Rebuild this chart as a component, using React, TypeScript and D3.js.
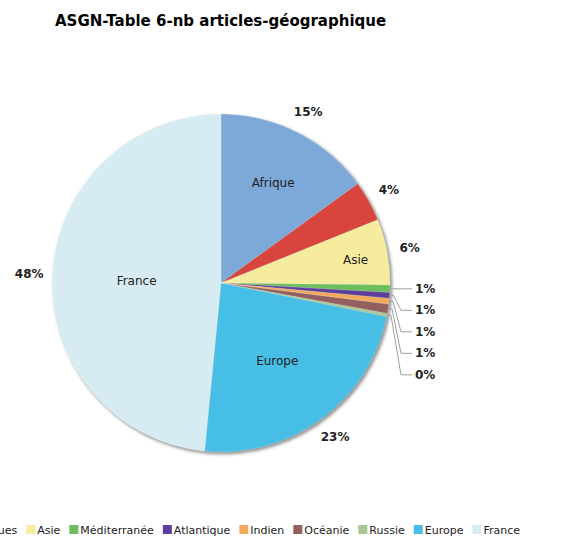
import React from "react";
import * as d3 from "d3";

const TITLE = "ASGN-Table 6-nb articles-géographique";
const categories = ["Afrique", "Amériques", "Asie", "Méditerranée", "Atlantique", "Indien", "Océanie", "Russie", "Europe", "France"];
const values = [15.0, 3.9, 6.3, 0.7, 0.55, 0.55, 0.9, 0.3, 23.35, 48.45];
const colors = ["#7DA9D8", "#D8453E", "#F5EC9E", "#6CBE5C", "#5C3F9A", "#F2A95B", "#94605F", "#A9C795", "#46BEE6", "#D7ECF2"];

const W = 565;
const H = 537;
const CX = 221;
const CY = 283;
const R = 169;
const FONT = "'DejaVu Sans', Verdana, sans-serif";

function measure(text: string, font: string): number {
  const c = document.createElement("canvas").getContext("2d");
  if (!c) return text.length * 6.5;
  c.font = font;
  return c.measureText(text).width;
}

export default function App() {
  const total = d3.sum(values);
  const pie = d3.pie<number>().sort(null).value((d) => d);
  const arcs = pie(values);
  const arc = d3.arc<d3.PieArcDatum<number>>().innerRadius(0).outerRadius(R);
  const pct = (v: number) => Math.round((v / total) * 100) + "%";

  const inFrac = (v: number) => {
    const p = v / total;
    if (p > 0.4) return 0.5;
    if (p > 0.2) return 0.56;
    if (p > 0.1) return 0.68;
    return 0.81;
  };
  const pt = (a: number, r: number): [number, number] => [CX + r * Math.sin(a), CY - r * Math.cos(a)];

  // small slices with leader lines
  const small = arcs.map((a, i) => ({ a, i })).filter(({ a }) => a.data / total < 0.03);
  const smallLabelX = CX + R + 25;
  const firstSmallY = pt((small[0].a.startAngle + small[0].a.endAngle) / 2, R)[1];

  // legend layout
  const legFS = 11;
  const legFont = `${legFS}px ${FONT}`;
  const sw = 9, gapSw = 2, gapItem = 9;
  const widths = categories.map((c) => sw + gapSw + measure(c, legFont) + gapItem);
  const legTotal = d3.sum(widths) - gapItem;
  const legRight = W - 45;
  let lx = legRight - legTotal;
  const legendItems = categories.map((c, i) => {
    const x = lx;
    lx += widths[i];
    return { c, x, color: colors[i] };
  });
  const legY = 530;

  return (
    <svg width={W} height={H} style={{ position: "absolute", left: 0, top: 0, background: "#fff" }} fontFamily={FONT}>
      <defs>
        <filter id="sh" x="-10%" y="-10%" width="120%" height="120%">
          <feGaussianBlur stdDeviation="1.5" />
        </filter>
      </defs>
      <text x={55} y={26} fontSize={15} fontWeight="bold" fill="#000">{TITLE}</text>
      <circle cx={CX + 2} cy={CY + 2} r={R + 0.5} fill="#9a9a9a" filter="url(#sh)" />
      <g transform={`translate(${CX},${CY})`}>
        {arcs.map((a, i) => (
          <path key={i} d={arc(a) || ""} fill={colors[i]} stroke="#ffffff" strokeOpacity={0.35} strokeWidth={0.5} />
        ))}
      </g>
      {arcs.map((a, i) => {
        if (a.data / total < 0.05) return null;
        const m = (a.startAngle + a.endAngle) / 2;
        const [x, y] = pt(m, R * inFrac(a.data));
        return (
          <text key={"n" + i} x={x} y={y + 2} fontSize={12} textAnchor="middle" dominantBaseline="central" fill="#222">
            {categories[i]}
          </text>
        );
      })}
      {arcs.map((a, i) => {
        if (a.data / total < 0.03) return null;
        const m = (a.startAngle + a.endAngle) / 2;
        const [x, y] = pt(m, R + 23);
        return (
          <text key={"p" + i} x={x} y={y} fontSize={12} fontWeight="bold" textAnchor="middle" dominantBaseline="central" fill="#222">
            {pct(a.data)}
          </text>
        );
      })}
      {small.map(({ a, i }, k) => {
        const m = (a.startAngle + a.endAngle) / 2;
        const p0 = pt(m, R);
        const ly = firstSmallY + k * 21.5;
        const elbowX = k === 0 ? p0[0] + 5 : smallLabelX - 14;
        const pts = [p0, [p0[0] + 4, p0[1]], [elbowX, ly], [smallLabelX - 3, ly]];
        return (
          <g key={"s" + i}>
            <polyline points={pts.map((p) => p.join(",")).join(" ")} fill="none" stroke="#a0a0a0" strokeWidth={1} />
            <text x={smallLabelX} y={ly} fontSize={12} fontWeight="bold" dominantBaseline="central" fill="#222">
              {pct(a.data)}
            </text>
          </g>
        );
      })}
      {legendItems.map((it, i) => (
        <g key={"l" + i}>
          <rect x={it.x} y={legY - 5} width={sw} height={sw} fill={it.color} />
          <text x={it.x + sw + gapSw} y={legY} fontSize={legFS} dominantBaseline="central" fill="#222">{it.c}</text>
        </g>
      ))}
    </svg>
  );
}
